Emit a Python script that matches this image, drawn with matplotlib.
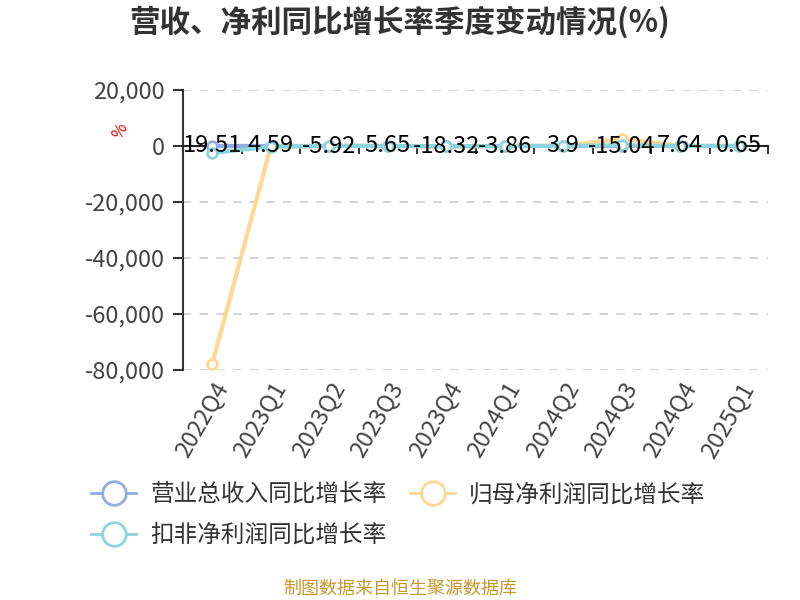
import numpy as np
import matplotlib
matplotlib.use("Agg")
import matplotlib.pyplot as plt
from matplotlib.lines import Line2D
from matplotlib.ticker import FuncFormatter, FixedLocator

plt.rcParams['font.family'] = ['Noto Sans CJK SC', 'DejaVu Sans']

quarters = ['2022Q4', '2023Q1', '2023Q2', '2023Q3', '2023Q4',
            '2024Q1', '2024Q2', '2024Q3', '2024Q4', '2025Q1']
revenue_yoy = [19.51, 4.59, -5.92, 5.65, -18.32, -3.86, 3.9, -15.04, 7.64, 0.65]
netprofit_yoy = [-77800, -300, 60, 40, -120, 30, 50, 2600, 40, 20]
deducted_yoy = [-2500, -200, 30, 20, -60, 10, 20, 300, 20, 10]
series_names = ['营业总收入同比增长率', '归母净利润同比增长率', '扣非净利润同比增长率']
colors = ['#93acdf', '#fdd893', '#8dd5dd']

fig = plt.figure(figsize=(8, 6), dpi=100)
ax = fig.add_axes([183/800, 1-370/600, 585/800, 280/600])

x = np.arange(len(quarters))
for vals, c in zip([revenue_yoy, netprofit_yoy, deducted_yoy], colors):
    ax.plot(x, vals, color=c, lw=3, marker='o', ms=7, mfc='white',
            mec=c, mew=2, zorder=3, clip_on=False)

for xi, v in zip(x, revenue_yoy):
    ax.text(xi, v, f'{v:g}', ha='center', va='center', fontsize=17,
            color='black', zorder=5)

ax.set_xlim(-0.5, len(quarters) - 0.5)
ax.set_ylim(-80000, 20000)
ax.set_yticks(np.arange(-80000, 20001, 20000))
ax.yaxis.set_major_formatter(FuncFormatter(lambda v, p: f'{int(v):,}'))
ax.tick_params(axis='y', labelsize=17, labelcolor='#444444', length=7,
               color='#333333', width=1.5, pad=6)
ax.grid(axis='y', ls=(0, (5, 5)), color='#cccccc', lw=1.2)

# category axis sitting on zero
ax.spines['bottom'].set_position(('data', 0))
ax.spines['bottom'].set_color('#222222')
ax.spines['bottom'].set_linewidth(1.5)
ax.spines['left'].set_color('#333333')
ax.spines['left'].set_linewidth(1.5)
ax.spines['top'].set_visible(False)
ax.spines['right'].set_visible(False)
ax.xaxis.set_major_locator(FixedLocator(np.arange(-0.5, len(quarters), 1)))
ax.xaxis.set_major_formatter(FuncFormatter(lambda v, p: ''))
ax.tick_params(axis='x', length=6, width=1.3, color='#222222', direction='out')

# quarter labels under the plot area
for xi, q in zip(x, quarters):
    ax.annotate(q, xy=(xi, -80000), xytext=(0, -6), textcoords='offset points',
                rotation=60, ha='right', va='top', rotation_mode='anchor',
                fontsize=17, color='#444444', annotation_clip=False)

fig.text(120/800, 1-131/600, '%', color='red', fontsize=12, rotation=60,
         ha='center', va='center')

fig.suptitle('营收、净利同比增长率季度变动情况(%)', x=0.5, y=1-22/600, va='center',
             fontsize=22, fontweight='bold', color='#333333')

handles = [Line2D([], [], color=c, lw=2, marker='o', ms=17, mfc='white',
                  mec=c, mew=2) for c in colors]
order = [0, 2, 1]
fig.legend([handles[i] for i in order], [series_names[i] for i in order],
           loc='upper left', bbox_to_anchor=(70/800, 1-462/600), ncol=2,
           frameon=False, fontsize=17, handlelength=1.9, handletextpad=0.6,
           columnspacing=1.0, labelspacing=0.75, labelcolor='#333333')

fig.text(0.5, 1-589/600, '制图数据来自恒生聚源数据库', ha='center', va='center',
         fontsize=13, color='#c9962a')

fig.savefig('out.png', dpi=100)
